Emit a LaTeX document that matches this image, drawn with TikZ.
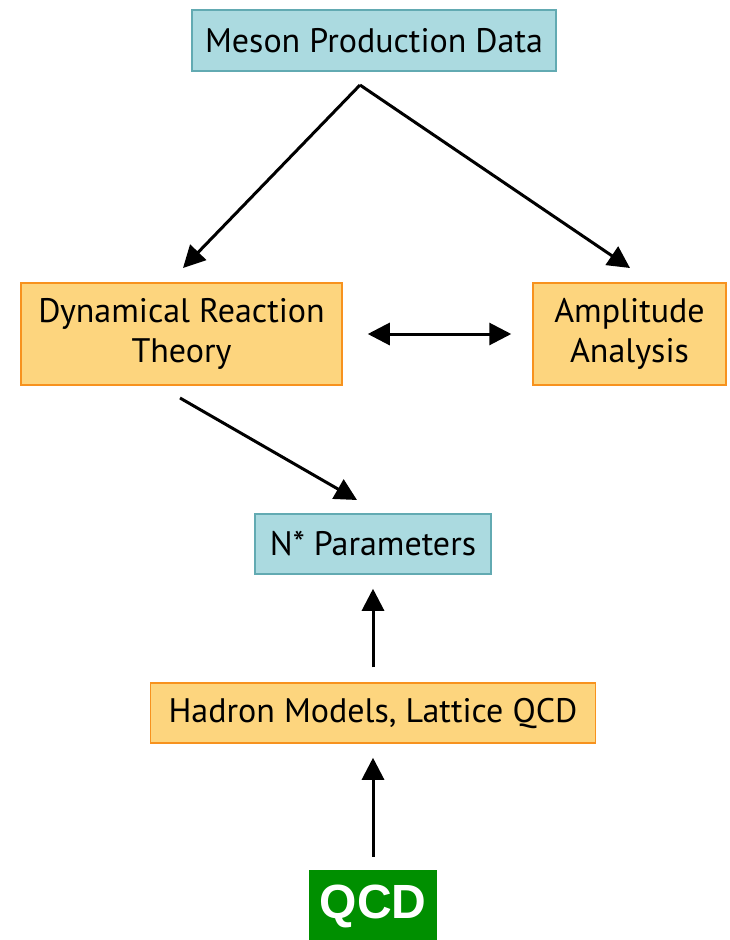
\documentclass[tikz,border=0pt]{standalone}
\usepackage{fontspec}
\setmainfont{PT Sans}
\newfontfamily\qcdfont{Liberation Sans}
\usetikzlibrary{arrows.meta}
\definecolor{tealfill}{HTML}{ABDAE0}
\definecolor{tealline}{HTML}{62AAB2}
\definecolor{orfill}{HTML}{FDD57E}
\definecolor{orline}{HTML}{F7921E}
\definecolor{qgreen}{HTML}{008F00}
\tikzset{
  tealbox/.style={draw=tealline, fill=tealfill, line width=1.5pt, inner sep=0pt, align=center, font=\fontsize{34}{40}\selectfont},
  orbox/.style={draw=orline, fill=orfill, line width=1.5pt, inner sep=0pt, align=center, font=\fontsize{34}{40}\selectfont},
  conn/.style={line width=3pt, -{Triangle[length=22pt,width=22pt]}},
  dconn/.style={line width=3pt, {Triangle[length=22pt,width=22pt]}-{Triangle[length=22pt,width=22pt]}},
}
\begin{document}
\begin{tikzpicture}[x=1pt,y=-1pt]
\useasboundingbox (0,0) rectangle (730,940);
\node[tealbox, minimum width=364pt, minimum height=61pt] (meson) at (374,40.5) {Meson Production Data};
\node[orbox, minimum width=321pt, minimum height=102pt] (dyn) at (181.5,334) {Dynamical Reaction\\Theory};
\node[orbox, minimum width=193pt, minimum height=102pt] (amp) at (629.5,334) {Amplitude\\Analysis};
\node[tealbox, minimum width=236pt, minimum height=60pt] (nstar) at (373,544) {N* Parameters};
\node[orbox, minimum width=445pt, minimum height=60pt] (had) at (373,713) {Hadron Models, Lattice QCD};
\node[fill=qgreen, text=white, minimum width=128pt, minimum height=72pt, inner sep=0pt, font=\qcdfont\bfseries\fontsize{48}{54}\selectfont] (qcd) at (373,906) {QCD};
\coordinate (apex) at (360,85);
\coordinate (dynA) at (183,268);
\coordinate (ampA) at (630,268);
\draw[conn] (apex) -- (dynA);
\draw[conn] (apex) -- (ampA);
\draw[dconn] ([xshift=25pt]dyn.east) -- ([xshift=-21pt]amp.west);
\coordinate (dynS) at (180,398);
\coordinate (nsA) at (357,500);
\draw[conn] (dynS) -- (nsA);
\draw[conn] ([yshift=15pt]had.north) -- ([yshift=-14pt]nstar.south);
\draw[conn] ([yshift=13pt]qcd.north) -- ([yshift=-14pt]had.south);
\end{tikzpicture}
\end{document}
